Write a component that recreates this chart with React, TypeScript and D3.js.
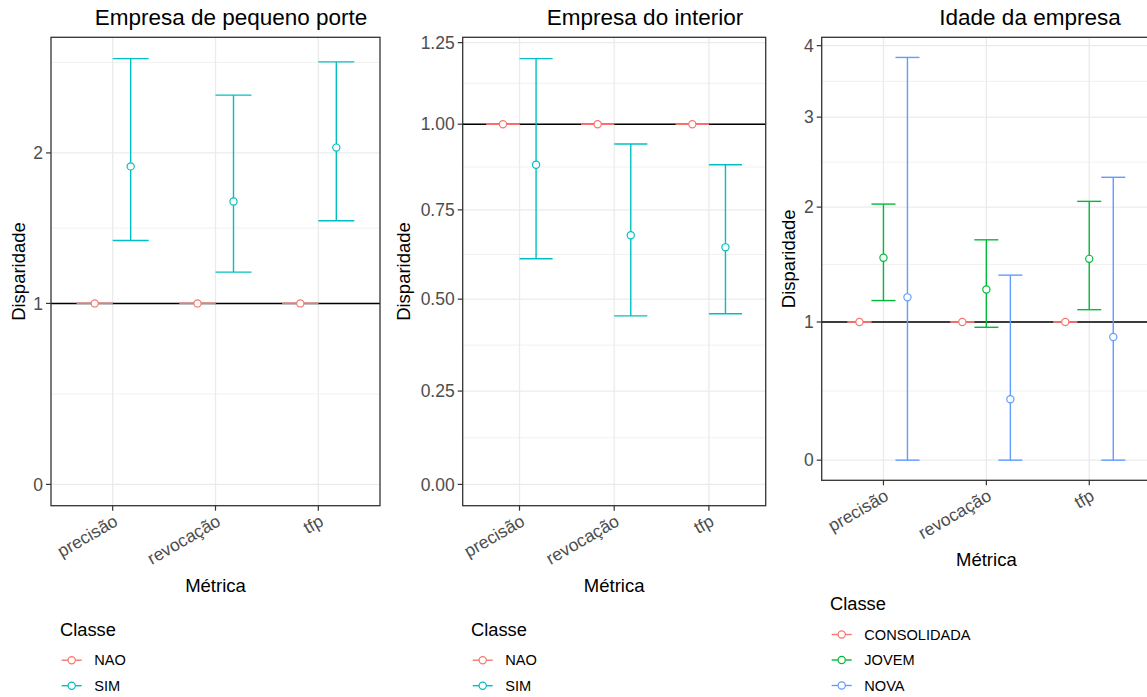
import React from "react";
import * as d3 from "d3";

// ---------- data ----------
const metricas = ["precisão", "revocação", "tfp"];

// Painel 1: Empresa de pequeno porte
const porteClasses = ["NAO", "SIM"];
const porteNaoMedia = [1, 1, 1];
const porteNaoInf = [1, 1, 1];
const porteNaoSup = [1, 1, 1];
const porteSimMedia = [1.9, 1.65, 2.04];
const porteSimInf = [1.39, 1.19, 1.52];
const porteSimSup = [2.78, 2.46, 2.75];
const porteTicks = [0, 1, 2];

// Painel 2: Empresa do interior
const interiorClasses = ["NAO", "SIM"];
const interiorNaoMedia = [1, 1, 1];
const interiorNaoInf = [1, 1, 1];
const interiorNaoSup = [1, 1, 1];
const interiorSimMedia = [0.88, 0.678, 0.644];
const interiorSimInf = [0.612, 0.454, 0.46];
const interiorSimSup = [1.2, 0.941, 0.88];
const interiorTicks = [0, 0.25, 0.5, 0.75, 1.0, 1.25];

// Painel 3: Idade da empresa
const idadeClasses = ["CONSOLIDADA", "JOVEM", "NOVA"];
const idadeConsMedia = [1, 1, 1];
const idadeConsInf = [1, 1, 1];
const idadeConsSup = [1, 1, 1];
const idadeJovemMedia = [1.53, 1.26, 1.52];
const idadeJovemInf = [1.17, 0.959, 1.097];
const idadeJovemSup = [2.03, 1.69, 2.057];
const idadeNovaMedia = [1.196, 0.427, 0.885];
const idadeNovaInf = [0, 0, 0];
const idadeNovaSup = [3.82, 1.38, 2.305];
const idadeTicks = [0, 1, 2, 3, 4];

const referencia = 1;

const cores2 = ["#F8766D", "#00BFC4"];
const cores3 = ["#F8766D", "#00BA38", "#619CFF"];

// ---------- helpers ----------
const FONT = "'Liberation Sans', Arial, Helvetica, sans-serif";
const pseudoLog = (v: number) => Math.asinh(v / 2); // pseudo_log_trans(sigma = 1)

type Serie = { nome: string; cor: string; media: number[]; inf: number[]; sup: number[] };

type PanelCfg = {
  titulo: string;
  titleX: number;
  left: number;
  right: number;
  top: number;
  bottom: number;
  yTitleX: number;
  ticks: number[];
  tickFmt: (v: number) => string;
  series: Serie[];
  legendX: number;
  legendY: number;
};

function minorBreaks(major: number[], lim: [number, number]) {
  let b = major.slice();
  const bd = b[1] - b[0];
  if (lim[0] < b[0]) b = [b[0] - bd, ...b];
  if (lim[1] > b[b.length - 1]) b = [...b, b[b.length - 1] + bd];
  const out: number[] = [];
  for (let i = 0; i < b.length - 1; i++) out.push((b[i] + b[i + 1]) / 2);
  return out.filter((v) => v >= lim[0] && v <= lim[1]);
}

function Panel({ cfg }: { cfg: PanelCfg }) {
  const { left, right, top, bottom, series } = cfg;
  const x = d3.scalePoint<string>().domain(metricas).range([left, right]).padding(0.6);
  const step = x.step();
  const allVals = [0, ...series.flatMap((s) => [...s.inf, ...s.sup, ...s.media])];
  const [tMin, tMax] = d3.extent(allVals.map(pseudoLog)) as [number, number];
  const pad = (tMax - tMin) * 0.05;
  const yt = d3.scaleLinear().domain([tMin - pad, tMax + pad]).range([bottom, top]);
  const y = (v: number) => yt(pseudoLog(v));

  const n = series.length;
  const dodge = 0.7;
  const groupW = dodge / n;
  const offset = (i: number) => (-dodge / 2 + groupW * (i + 0.5)) * step;
  const capHalf = (groupW / 2) * step;

  const majorT = cfg.ticks.map(pseudoLog);
  const minorT = minorBreaks(majorT, yt.domain() as [number, number]);

  const grid = "#EBEBEB";
  const axisCol = "#333333";
  const lw = 1.4;

  return (
    <g>
      {/* panel background */}
      <rect x={left} y={top} width={right - left} height={bottom - top} fill="#FFFFFF" />
      {minorT.map((t, i) => (
        <line key={"mn" + i} x1={left} x2={right} y1={yt(t)} y2={yt(t)} stroke={grid} strokeWidth={0.7} />
      ))}
      {majorT.map((t, i) => (
        <line key={"mj" + i} x1={left} x2={right} y1={yt(t)} y2={yt(t)} stroke={grid} strokeWidth={1.3} />
      ))}
      {metricas.map((m) => (
        <line key={"vx" + m} x1={x(m)} x2={x(m)} y1={top} y2={bottom} stroke={grid} strokeWidth={1.3} />
      ))}
      {/* reference line */}
      <line x1={left} x2={right} y1={y(referencia)} y2={y(referencia)} stroke="#000000" strokeWidth={1.5} />
      {/* error bars */}
      {series.map((s, si) =>
        metricas.map((m, mi) => {
          const cx = (x(m) as number) + offset(si);
          return (
            <g key={"eb" + si + "-" + mi} stroke={s.cor} strokeWidth={lw}>
              <line x1={cx} x2={cx} y1={y(s.inf[mi])} y2={y(s.sup[mi])} />
              <line x1={cx - capHalf} x2={cx + capHalf} y1={y(s.sup[mi])} y2={y(s.sup[mi])} />
              <line x1={cx - capHalf} x2={cx + capHalf} y1={y(s.inf[mi])} y2={y(s.inf[mi])} />
            </g>
          );
        })
      )}
      {/* points */}
      {series.map((s, si) =>
        metricas.map((m, mi) => (
          <circle
            key={"pt" + si + "-" + mi}
            cx={(x(m) as number) + offset(si)}
            cy={y(s.media[mi])}
            r={3.6}
            fill="#FFFFFF"
            stroke={s.cor}
            strokeWidth={1.2}
          />
        ))
      )}
      {/* border */}
      <rect x={left} y={top} width={right - left} height={bottom - top} fill="none" stroke={axisCol} strokeWidth={1.3} />
      {/* y axis ticks */}
      {cfg.ticks.map((v, i) => (
        <g key={"yt" + i}>
          <line x1={left - 5} x2={left} y1={y(v)} y2={y(v)} stroke={axisCol} strokeWidth={1.2} />
          <text x={left - 8} y={y(v)} dy="0.36em" textAnchor="end" fontSize={17.5} fill="#4D4D4D" fontFamily={FONT}>
            {cfg.tickFmt(v)}
          </text>
        </g>
      ))}
      {/* x axis ticks */}
      {metricas.map((m) => (
        <g key={"xt" + m}>
          <line x1={x(m)} x2={x(m)} y1={bottom} y2={bottom + 5} stroke={axisCol} strokeWidth={1.2} />
          <text
            transform={`translate(${x(m)},${bottom + 8}) rotate(-30)`}
            dy="0.72em"
            textAnchor="end"
            fontSize={17.5}
            fill="#4D4D4D"
            fontFamily={FONT}
          >
            {m}
          </text>
        </g>
      ))}
      {/* titles */}
      <text x={cfg.titleX} y={25} textAnchor="middle" fontSize={22.5} fill="#000" fontFamily={FONT}>
        {cfg.titulo}
      </text>
      <text x={(left + right) / 2} y={bottom + 86} textAnchor="middle" fontSize={18.5} fill="#000" fontFamily={FONT}>
        Métrica
      </text>
      <text
        transform={`translate(${cfg.yTitleX},${(top + bottom) / 2}) rotate(-90)`}
        textAnchor="middle"
        fontSize={18.5}
        fill="#000"
        fontFamily={FONT}
      >
        Disparidade
      </text>
      {/* legend */}
      <g transform={`translate(${cfg.legendX},${cfg.legendY})`}>
        <text x={0} y={0} fontSize={18.3} fill="#000" fontFamily={FONT}>
          Classe
        </text>
        {series.map((s, si) => {
          const cy = 24.5 + si * 25.5;
          return (
            <g key={"lg" + si}>
              <line x1={1.7} x2={21.7} y1={cy} y2={cy} stroke={s.cor} strokeWidth={lw} />
              <circle cx={11.7} cy={cy} r={3.6} fill="#FFFFFF" stroke={s.cor} strokeWidth={1.2} />
              <text x={34.3} y={cy} dy="0.36em" fontSize={14.6} fill="#000" fontFamily={FONT}>
                {s.nome}
              </text>
            </g>
          );
        })}
      </g>
    </g>
  );
}

const mkSeries = (nomes: string[], cores: string[], med: number[][], inf: number[][], sup: number[][]): Serie[] =>
  nomes.map((nome, i) => ({ nome, cor: cores[i], media: med[i], inf: inf[i], sup: sup[i] }));

const painéis: PanelCfg[] = [
  {
    titulo: "Empresa de pequeno porte",
    titleX: 231,
    left: 51,
    right: 380,
    top: 37.3,
    bottom: 505.7,
    yTitleX: 25,
    ticks: porteTicks,
    tickFmt: (v) => d3.format("d")(v),
    series: mkSeries(
      porteClasses,
      cores2,
      [porteNaoMedia, porteSimMedia],
      [porteNaoInf, porteSimInf],
      [porteNaoSup, porteSimSup]
    ),
    legendX: 60,
    legendY: 635.7,
  },
  {
    titulo: "Empresa do interior",
    titleX: 645,
    left: 462.7,
    right: 765.7,
    top: 37.3,
    bottom: 505.7,
    yTitleX: 410,
    ticks: interiorTicks,
    tickFmt: (v) => d3.format(".2f")(v),
    series: mkSeries(
      interiorClasses,
      cores2,
      [interiorNaoMedia, interiorSimMedia],
      [interiorNaoInf, interiorSimInf],
      [interiorNaoSup, interiorSimSup]
    ),
    legendX: 471,
    legendY: 635.7,
  },
  {
    titulo: "Idade da empresa",
    titleX: 1030,
    left: 821.7,
    right: 1151,
    top: 37.3,
    bottom: 480.3,
    yTitleX: 795,
    ticks: idadeTicks,
    tickFmt: (v) => d3.format("d")(v),
    series: mkSeries(
      idadeClasses,
      cores3,
      [idadeConsMedia, idadeJovemMedia, idadeNovaMedia],
      [idadeConsInf, idadeJovemInf, idadeNovaInf],
      [idadeConsSup, idadeJovemSup, idadeNovaSup]
    ),
    legendX: 830,
    legendY: 610,
  },
];

export default function App() {
  return (
    <svg
      width={1147}
      height={697}
      viewBox="0 0 1147 697"
      style={{ position: "absolute", left: 0, top: 0, display: "block", background: "#FFFFFF" }}
    >
      <rect x={0} y={0} width={1147} height={697} fill="#FFFFFF" />
      {painéis.map((p, i) => (
        <Panel key={i} cfg={p} />
      ))}
    </svg>
  );
}
